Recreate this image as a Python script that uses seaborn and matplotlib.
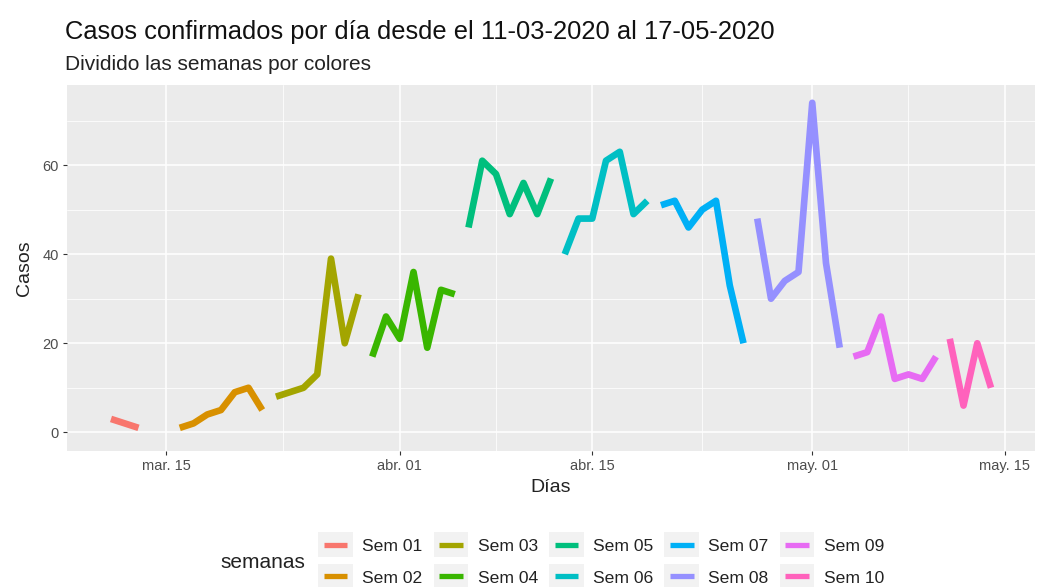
import numpy as np
import pandas as pd
import matplotlib
matplotlib.use("Agg")
import matplotlib.pyplot as plt
from matplotlib.legend_handler import HandlerLine2D
from matplotlib.patches import Rectangle
from matplotlib.lines import Line2D
import seaborn as sns

# Daily confirmed cases, one list per week (weeks run Monday to Sunday)
sem01_start, sem01 = "2020-03-11", [3, 2, 1]
sem02_start, sem02 = "2020-03-16", [1, 2, 4, 5, 9, 10, 5]
sem03_start, sem03 = "2020-03-23", [8, 9, 10, 13, 39, 20, 31]
sem04_start, sem04 = "2020-03-30", [17, 26, 21, 36, 19, 32, 31]
sem05_start, sem05 = "2020-04-06", [46, 61, 58, 49, 56, 49, 57]
sem06_start, sem06 = "2020-04-13", [40, 48, 48, 61, 63, 49, 52]
sem07_start, sem07 = "2020-04-20", [51, 52, 46, 50, 52, 33, 20]
sem08_start, sem08 = "2020-04-27", [48, 30, 34, 36, 74, 38, 19]
sem09_start, sem09 = "2020-05-04", [17, 18, 26, 12, 13, 12, 17]
sem10_start, sem10 = "2020-05-11", [21, 6, 20, 10]

week_names = ["Sem 01", "Sem 02", "Sem 03", "Sem 04", "Sem 05",
              "Sem 06", "Sem 07", "Sem 08", "Sem 09", "Sem 10"]
week_starts = [sem01_start, sem02_start, sem03_start, sem04_start, sem05_start,
               sem06_start, sem07_start, sem08_start, sem09_start, sem10_start]
week_values = [sem01, sem02, sem03, sem04, sem05, sem06, sem07, sem08, sem09, sem10]

x_tick_dates = ["2020-03-15", "2020-04-01", "2020-04-15", "2020-05-01", "2020-05-15"]
x_tick_labels = ["mar. 15", "abr. 01", "abr. 15", "may. 01", "may. 15"]
x_minor_dates = ["2020-03-23 12:00", "2020-04-08 00:00", "2020-04-23 00:00", "2020-05-08 00:00"]
y_ticks = [0, 20, 40, 60]
y_minor = [10, 30, 50, 70]

palette = ["#F8766D", "#D89000", "#A3A500", "#39B600", "#00BF7D",
           "#00BFC4", "#00B0F6", "#9590FF", "#E76BF3", "#FF62BC"]

rows = []
for name, start, vals in zip(week_names, week_starts, week_values):
    dates = pd.date_range(start, periods=len(vals), freq="D")
    for d, v in zip(dates, vals):
        rows.append({"fecha": d, "casos": v, "semanas": name})
df = pd.DataFrame(rows)

sns.set_theme(style="darkgrid")
plt.rcParams["font.family"] = ["Liberation Sans", "DejaVu Sans"]

fig = plt.figure(figsize=(10.37, 5.87), dpi=100)
fig.patch.set_facecolor("white")
ax = fig.add_axes([67 / 1037, 1 - 451 / 587, (1035 - 67) / 1037, (451 - 85) / 587])
ax.set_facecolor("#EBEBEB")

sns.lineplot(data=df, x="fecha", y="casos", hue="semanas", hue_order=week_names,
             palette=palette, linewidth=4.8, ax=ax, legend=False,
             solid_capstyle="butt", solid_joinstyle="round")

ax.set_ylim(-4.2, 78)
ax.set_xticks(pd.to_datetime(x_tick_dates))
ax.set_xticklabels(x_tick_labels)
ax.set_xticks(pd.to_datetime(x_minor_dates, format="%Y-%m-%d %H:%M"), minor=True)
ax.set_yticks(y_ticks)
ax.set_yticks(y_minor, minor=True)

ax.grid(which="major", color="white", linewidth=1.1)
ax.grid(which="minor", color="white", linewidth=0.55)
ax.set_axisbelow(True)
for s in ax.spines.values():
    s.set_visible(False)

ax.tick_params(axis="both", which="major", length=3, width=0.8, color="#333333",
               labelcolor="#4D4D4D", labelsize=10.5, pad=3, bottom=True, left=True)
ax.tick_params(axis="both", which="minor", length=0)

ax.set_xlabel("Días", fontsize=14, color="#222222", labelpad=4)
ax.set_ylabel("Casos", fontsize=14, color="#222222", labelpad=7)

fig.text(65 / 1037, 1 - 32 / 587, "Casos confirmados por día desde el 11-03-2020 al 17-05-2020",
         fontsize=18.4, color="#111111", ha="left", va="center")
fig.text(65 / 1037, 1 - 64 / 587, "Dividido las semanas por colores",
         fontsize=15, color="#222222", ha="left", va="center")


class KeyHandler(HandlerLine2D):
    """Legend key drawn over a light grey box, like a ggplot key."""
    def create_artists(self, legend, orig_handle, xdescent, ydescent,
                       width, height, fontsize, trans):
        pad_y = height * 0.55
        bg = Rectangle((-xdescent - 4, -ydescent - pad_y), width + 8, height + 2 * pad_y,
                       facecolor="#F2F2F2", edgecolor="none", transform=trans)
        arts = super().create_artists(legend, orig_handle, xdescent, ydescent,
                                      width, height, fontsize, trans)
        return [bg] + list(arts)


handles = [Line2D([], [], color=c, linewidth=3.8, solid_capstyle="butt") for c in palette]
leg = fig.legend(handles, week_names, ncol=5, loc="center left",
                 bbox_to_anchor=(308 / 1037, 1 - 562 / 587), frameon=False,
                 fontsize=12.6, handlelength=1.35, handletextpad=0.85,
                 columnspacing=0.95, labelspacing=0.95,
                 handler_map={Line2D: KeyHandler()})
for t in leg.get_texts():
    t.set_color("#222222")
fig.text(220 / 1037, 1 - 563 / 587, "semanas", fontsize=15, color="#222222",
         ha="left", va="center")

fig.savefig("out.png", dpi=100, facecolor="white")
